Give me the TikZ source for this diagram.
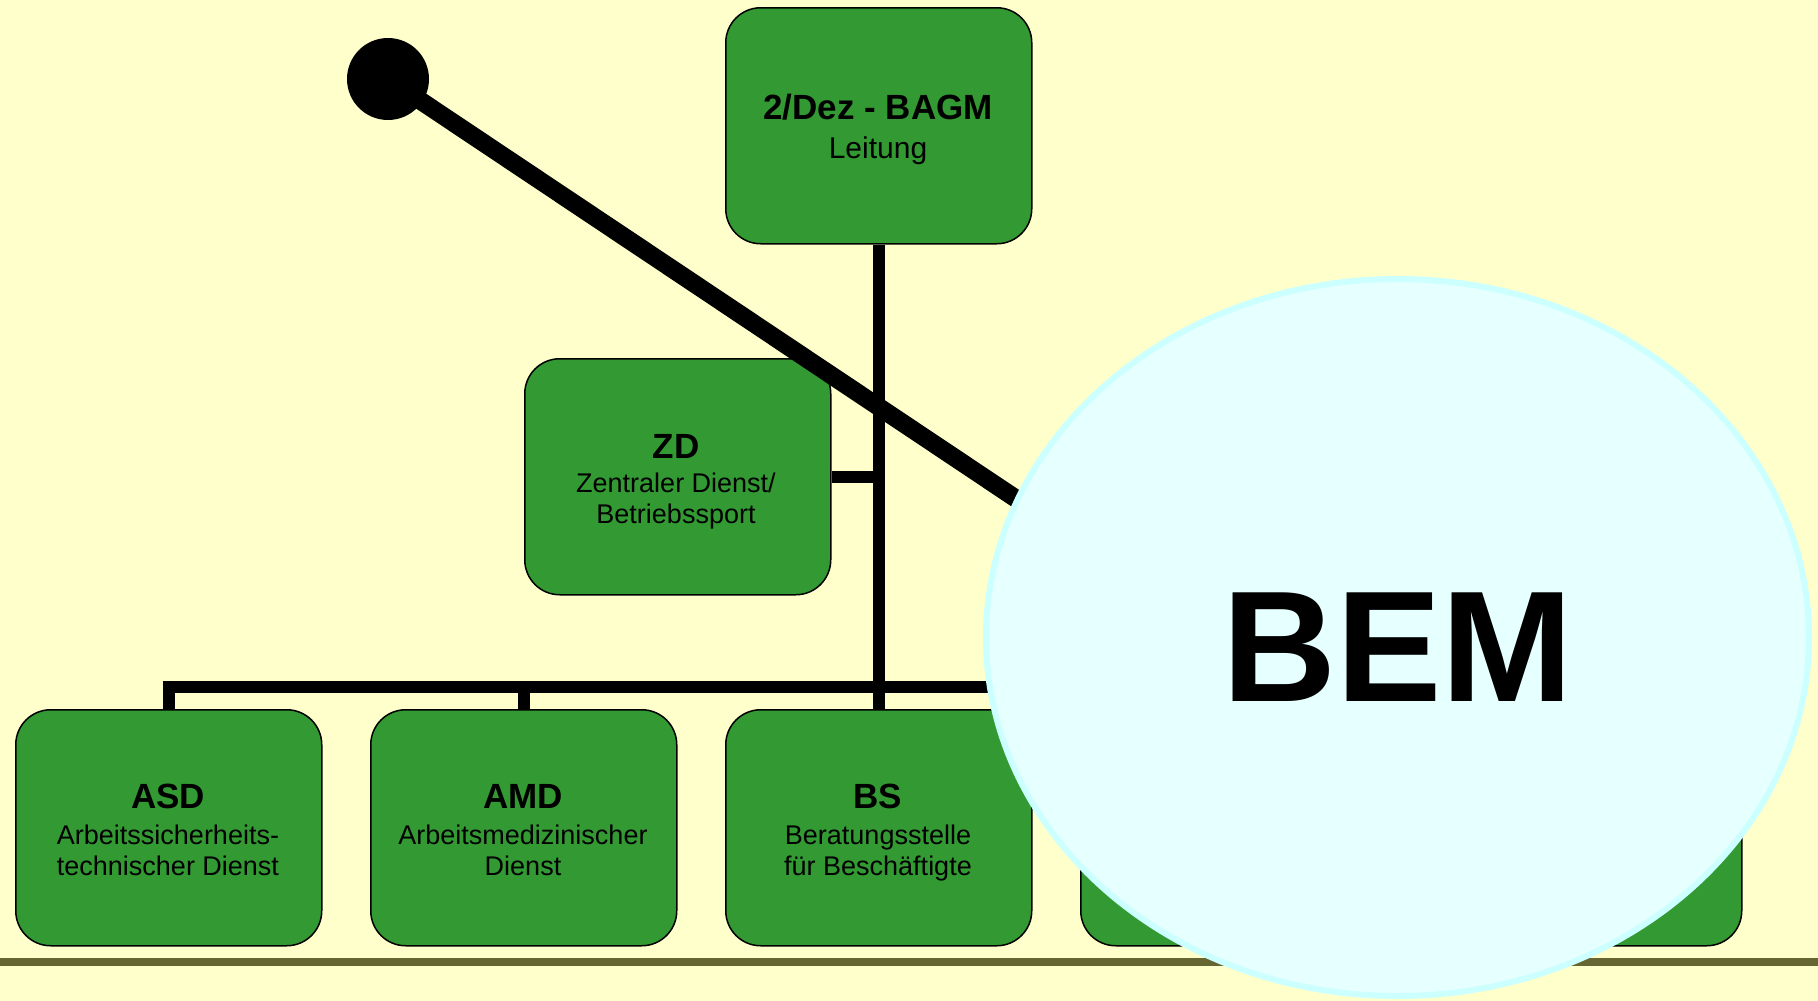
\documentclass[tikz,border=0pt]{standalone}
\usepackage{fontspec}
\setmainfont{Liberation Sans}
\usetikzlibrary{shapes.geometric}
\definecolor{bgyellow}{HTML}{FFFFCC}
\definecolor{boxgreen}{HTML}{339933}
\definecolor{bandolive}{HTML}{666633}
\definecolor{bemfill}{HTML}{E6FFFF}
\definecolor{bemborder}{HTML}{CCFFFF}
\begin{document}
\begin{tikzpicture}[x=1pt,y=-1pt,
  box/.style={draw=black, line width=1.5pt, fill=boxgreen, rounded corners=35pt,
    minimum width=306pt, minimum height=236pt, anchor=north west, inner sep=0pt},
  ttl/.style={font=\bfseries\fontsize{35}{40}\selectfont, anchor=base, inner sep=0pt},
  sub/.style={font=\fontsize{27}{31}\selectfont, anchor=base, inner sep=0pt},
  conn/.style={line width=12pt, draw=black},
  stick/.style={line width=18pt, draw=black}]
\useasboundingbox (0,0) rectangle (1818,1001);
\fill[bgyellow] (0,0) rectangle (1818,1001);
\fill[bandolive] (0,958) rectangle (1818,966);

% boxes
\node[box] (lead) at (725,7) {};
\node[box] (zd) at (524,358) {};
\node[box] (asd) at (15,709) {};
\node[box] (amd) at (370,709) {};
\node[box] (bs) at (725,709) {};
\node[box] (b4) at (1080,709) {};
\node[box] (b5) at (1435,709) {};

% connectors
\coordinate (busy) at (0,687);
\draw[conn] (lead.south) -- (bs.north);
\draw[conn] (zd.east) -- (zd.east -| lead.south);
\draw[conn, line join=miter] (asd.north) -- (asd.north |- busy) -- (b5.north |- busy) -- (b5.north);
\draw[conn] (amd.north) -- (amd.north |- busy);
\draw[conn] (b4.north) -- (b4.north |- busy);

% texts
\node[ttl] (t1) at (878,119) {2/Dez - BAGM};
\node[sub, font=\fontsize{30}{34}\selectfont] (s1) at (878,158) {Leitung};
\node[ttl] (t2) at (676,458) {ZD};
\node[sub] (s2a) at (676,492) {Zentraler Dienst/};
\node[sub] (s2b) at (676,523) {Betriebssport};
\node[ttl] (t3) at (168,808) {ASD};
\node[sub] (s3a) at (168,844) {Arbeitssicherheits-};
\node[sub] (s3b) at (168,875) {technischer Dienst};
\node[ttl] (t4) at (523,808) {AMD};
\node[sub] (s4a) at (523,844) {Arbeitsmedizinischer};
\node[sub] (s4b) at (523,875) {Dienst};
\node[ttl] (t5) at (878,808) {BS};
\node[sub] (s5a) at (878,844) {Beratungsstelle};
\node[sub] (s5b) at (878,875) {für Beschäftigte};

% pointer stick
\node[circle, fill=black, minimum size=82pt, inner sep=0pt] (dot) at (388,79) {};
\coordinate (stickend) at (1030,508);
\draw[stick] (dot.center) -- (stickend);

% BEM ellipse
\node[ellipse, draw=bemborder, line width=6pt, fill=bemfill,
  minimum width=823pt, minimum height=717pt, inner sep=0pt] (bem) at (1397.5,637.5) {};
\node[font=\bfseries\fontsize{158}{160}\selectfont, anchor=base, inner sep=0pt] (bemtxt) at (1398,701) {BEM};
\end{tikzpicture}
\end{document}
